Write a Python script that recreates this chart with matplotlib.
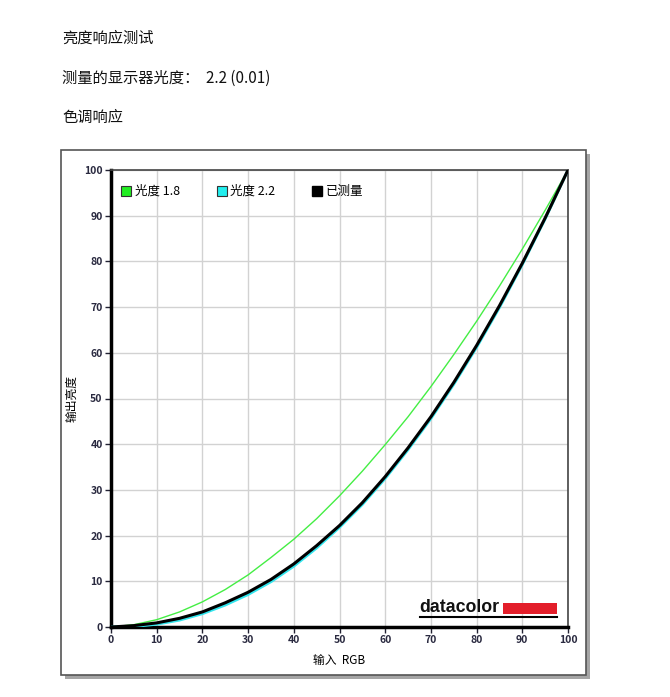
import numpy as np
import matplotlib.pyplot as plt
from matplotlib.patches import Rectangle
from matplotlib.lines import Line2D

plt.rcParams['font.family'] = ['Noto Sans CJK SC', 'DejaVu Sans']

# 输入 RGB 档位（%）
rgb_input = [0, 5, 10, 15, 20, 25, 30, 35, 40, 45, 50,
             55, 60, 65, 70, 75, 80, 85, 90, 95, 100]
# 光度 1.8 参考曲线
gamma_18 = [0, 0.5, 1.6, 3.3, 5.5, 8.2, 11.4, 15.2, 19.2, 23.7, 28.7,
            34.1, 39.9, 46.0, 52.6, 59.6, 66.9, 74.6, 82.7, 91.2, 100]
# 光度 2.2 参考曲线
gamma_22 = [0, 0.1, 0.6, 1.5, 2.9, 4.8, 7.1, 9.9, 13.3, 17.3, 21.8,
            26.8, 32.5, 38.8, 45.6, 53.1, 61.2, 69.9, 79.3, 89.3, 100]
# 已测量
measured = [0, 0.3, 0.9, 1.9, 3.3, 5.3, 7.6, 10.4, 13.8, 17.8, 22.2,
            27.2, 32.9, 39.2, 46.0, 53.5, 61.6, 70.3, 79.6, 89.5, 100]

header_lines = ["亮度响应测试", "测量的显示器光度：  2.2 (0.01)", "色调响应"]
header_y = [38, 78, 117]

W, H = 670, 697
fig = plt.figure(figsize=(W / 100, H / 100), dpi=100)
fig.patch.set_facecolor('white')


def fx(px):
    return px / W


def fy(py):
    return 1 - py / H


for txt, yy in zip(header_lines, header_y):
    fig.text(fx(62), fy(yy), txt, fontsize=11, va='center', ha='left', color='#111111')

# 外框 + 阴影
fig.patches.append(Rectangle((fx(65), fy(679)), fx(525), (675 - 150) / H,
                             transform=fig.transFigure, facecolor='#a5a5a5',
                             edgecolor='none', zorder=0))
fig.patches.append(Rectangle((fx(61), fy(675)), fx(525), (675 - 150) / H,
                             transform=fig.transFigure, facecolor='white',
                             edgecolor='#555555', linewidth=1.2, zorder=1))

ax = fig.add_axes([fx(111), fy(627), fx(568 - 111), (627 - 170) / H])
ax.set_zorder(2)
ax.set_xlim(0, 100)
ax.set_ylim(0, 100)
ax.set_xticks(range(0, 101, 10))
ax.set_yticks(range(0, 101, 10))
ax.grid(True, color='#d2d2d2', linewidth=1)
ax.set_axisbelow(True)

ax.plot(rgb_input, gamma_18, color='#44ee44', linewidth=1.0, zorder=3)
ax.plot(rgb_input, gamma_22, color='#33e6ee', linewidth=2.0, zorder=3)
ax.plot(rgb_input, measured, color='black', linewidth=2.2, zorder=4)

for side in ['left', 'bottom']:
    ax.spines[side].set_linewidth(2.5)
    ax.spines[side].set_color('black')
for side in ['top', 'right']:
    ax.spines[side].set_linewidth(1.2)
    ax.spines[side].set_color('#444444')

ax.tick_params(labelsize=7.5, colors='#222233', length=4, width=1, pad=2)
for lab in ax.get_xticklabels() + ax.get_yticklabels():
    lab.set_fontweight('bold')
    lab.set_color('#2a2a40')
ax.set_xlabel("输入  RGB", fontsize=8.5, labelpad=6)
ax.set_ylabel("输出亮度", fontsize=8.5, labelpad=4)

handles = [
    Line2D([], [], marker='s', linestyle='none', markersize=7,
           markerfacecolor='#22ee22', markeredgecolor='#333333', markeredgewidth=0.8),
    Line2D([], [], marker='s', linestyle='none', markersize=7,
           markerfacecolor='#22eeee', markeredgecolor='#333333', markeredgewidth=0.8),
    Line2D([], [], marker='s', linestyle='none', markersize=7,
           markerfacecolor='black', markeredgecolor='black'),
]
ax.legend(handles, ["光度 1.8", "光度 2.2", "已测量"], loc='upper left', ncol=3,
          frameon=False, fontsize=9, handlelength=0.8, handletextpad=0.3,
          columnspacing=2.9, borderaxespad=0, bbox_to_anchor=(0.012, 0.978))

# datacolor 标志
fig.text(fx(419), fy(607), "datacolor", fontsize=12.8, fontweight='bold',
         va='center', ha='left', color='#111111', family='Liberation Sans')
fig.patches.append(Rectangle((fx(503), fy(614)), fx(557 - 503), (614 - 603) / H,
                             transform=fig.transFigure, facecolor='#e31e2a',
                             edgecolor='none', zorder=5))
fig.lines.append(Line2D([fx(420), fx(557)], [fy(617), fy(617)],
                        transform=fig.transFigure, color='black', linewidth=1.5, zorder=5))

fig.savefig('out.png', dpi=100)
